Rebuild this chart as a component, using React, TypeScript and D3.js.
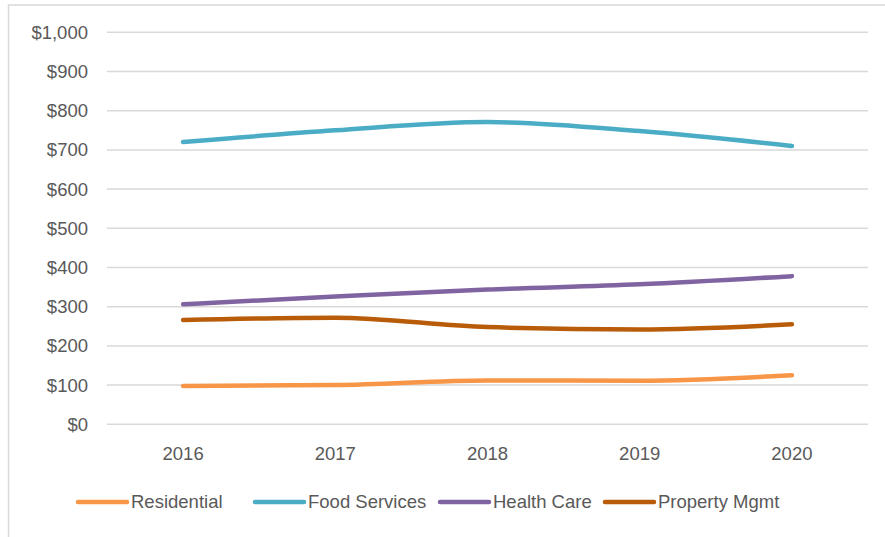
import React from "react";
import * as d3 from "d3";

const years = ["2016", "2017", "2018", "2019", "2020"];
const residential = [98, 100, 112, 111, 125];
const foodServices = [720, 750, 771, 748, 710];
const healthCare = [306, 326, 344, 357, 378];
const propertyMgmt = [266, 272, 248, 242, 255];
const yTicks = [0, 100, 200, 300, 400, 500, 600, 700, 800, 900, 1000];

const seriesNames = ["Residential", "Food Services", "Health Care", "Property Mgmt"];
const seriesValues = [residential, foodServices, healthCare, propertyMgmt];
const seriesColors = ["#F79646", "#4BACC6", "#8064A2", "#B85C0A"];

const W = 885;
const H = 537;
const FONT = "'Liberation Sans', Arial, sans-serif";

export default function App() {
  const x = d3.scaleBand<string>().domain(years).range([107, 868]);
  const y = d3.scaleLinear().domain([0, 1000]).range([424.3, 32.3]);
  const fmt = (v: number) => "$" + d3.format(",")(v);
  const line = d3
    .line<number>()
    .x((_, i) => (x(years[i]) as number) + x.bandwidth() / 2)
    .y((d) => y(d))
    .curve(d3.curveMonotoneX);

  const legendX = [78, 255, 440, 605];

  return (
    <svg
      width={W}
      height={H}
      style={{ position: "absolute", left: 0, top: 0, background: "#fff" }}
      fontFamily={FONT}
    >
      <rect x={8.5} y={5} width={885} height={545} fill="#fff" stroke="#d9d9d9" strokeWidth={1.5} />
      {yTicks.map((t) => (
        <g key={t}>
          <line x1={107} x2={868} y1={y(t)} y2={y(t)} stroke="#d9d9d9" strokeWidth={1.5} />
          <text x={88} y={y(t)} dy="0.35em" textAnchor="end" fontSize={18.5} fill="#595959">
            {fmt(t)}
          </text>
        </g>
      ))}
      {years.map((yr) => (
        <text
          key={yr}
          x={(x(yr) as number) + x.bandwidth() / 2}
          y={454}
          dy="0.35em"
          textAnchor="middle"
          fontSize={18.5}
          fill="#595959"
        >
          {yr}
        </text>
      ))}
      {seriesValues.map((vals, i) => (
        <path
          key={seriesNames[i]}
          d={line(vals) || ""}
          fill="none"
          stroke={seriesColors[i]}
          strokeWidth={4.5}
          strokeLinecap="round"
          strokeLinejoin="round"
        />
      ))}
      {seriesNames.map((name, i) => (
        <g key={name}>
          <line
            x1={legendX[i]}
            x2={legendX[i] + 49}
            y1={502}
            y2={502}
            stroke={seriesColors[i]}
            strokeWidth={4.5}
            strokeLinecap="round"
          />
          <text x={legendX[i] + 53} y={502} dy="0.35em" fontSize={18.5} fill="#595959">
            {name}
          </text>
        </g>
      ))}
    </svg>
  );
}
